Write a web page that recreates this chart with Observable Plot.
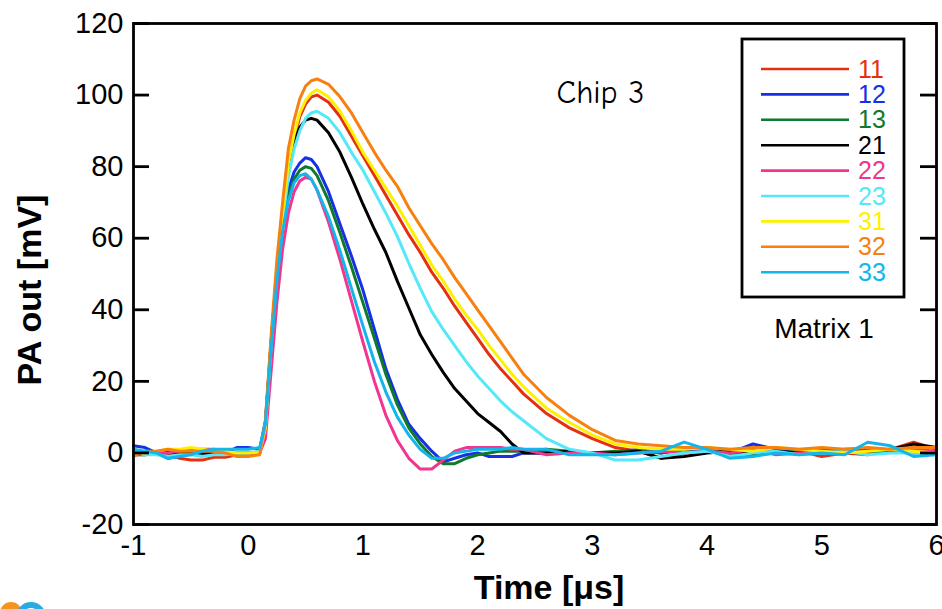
<!DOCTYPE html>
<html><head><meta charset="utf-8">
<script src="https://cdn.jsdelivr.net/npm/d3@7"></script>
<script src="https://cdn.jsdelivr.net/npm/@observablehq/plot@0.6"></script>
<style>
body{margin:0;background:#fff;}
#wrap{position:relative;width:942px;height:609px;overflow:hidden;}
#wrap svg{position:absolute;left:0;top:0;}
</style></head><body><div id="wrap"></div>
<script>
// time axis (µs)
const time = [-1,-0.9,-0.8,-0.7,-0.6,-0.5,-0.4,-0.3,-0.2,-0.1,0,
  0.1,0.15,0.2,0.25,0.3,0.35,0.4,0.45,0.5,0.55,0.6,
  0.7,0.8,0.9,1.0,1.1,1.2,1.3,1.4,1.5,1.6,1.7,1.8,1.9,2.0,2.1,2.2,2.3,2.4,
  2.6,2.8,3.0,3.2,3.4,3.6,3.8,4.0,4.2,4.4,4.6,4.8,5.0,5.2,5.4,5.6,5.8,6.0];

// PA out (mV) per channel
const s11 = [0,0,0,0,-1.5,-2,-2,-1.2,-1.2,-0.5,0,
  0,7,31,51,66,79,88,94,97.5,99.5,100,
  98,94,88.5,83,77.5,72,66.5,61,56,50.5,46,41,36.5,32,27.5,23.5,20,16.5,
  11,7,4,1.5,0.5,-1.5,0,0.5,0,0.5,0,0.5,-1,0,-0.5,1,3,1];
const s12 = [2,1.5,0,-1.5,-1,0,-0.5,0,0,1.5,1.5,
  1,9,31,51,65,73.5,78.5,81,82.5,82,80,
  73,64,55,45.5,34.5,23.5,15,8,4,0.5,-2.5,-1.5,-0.5,0,-1,-1,-1,0,
  0,0.5,0,0,1,0,1,0.5,0,2.5,1,0.5,0,1,1,0.5,0,0.5];
const s13 = [0,0,0,0.5,0.5,0,0,0.5,0.5,0,0,
  0,8,30,49,63,72,76.5,79,80,79.5,77.5,
  70.5,61.5,52,42,32,22,13.5,7,2.5,-1,-3,-3,-1.5,-0.5,0,0.5,0.5,0.5,
  1,0.5,0,0.5,0.5,0,1,1.5,0,-0.5,0,0.5,1,0.5,0,0.5,1.5,-0.5];
const s21 = [-0.5,-0.5,0,0,0,0,0,0,0.5,0,0,
  0,8,31,51,67,79,87,91,93,93.5,93,
  89.5,84,77,69.5,62.5,56,48,40.5,33,27.5,22.5,18,14.5,11,8.5,6,2.5,0,
  0,0.5,0,0,0.5,-1.5,-1,0,0.5,0,0.5,0,0.5,0,0.5,1,2.5,1.5];
const s22 = [0,0,0,0,0.5,1,1,1,0.5,0,0,
  0,4,23,42,57,67,73,76,77,76.5,73.5,
  64.5,54,42.5,31,20,10.5,3.5,-1.5,-4.5,-4.5,-2,0.5,1.5,1.5,1.5,1.5,1,1,
  -0.5,0,0,-0.5,0,0.5,0,0.5,0,1,-0.5,0,0.5,0,0.5,1,1,0.5];
const s23 = [0,-0.5,-0.5,-1,-0.5,-0.5,-1,-0.5,-0.5,0,0,
  0.5,8,30,50,65,77,85,90,93.5,95,95.5,
  93.5,89.5,84,79,73,67,60.5,53,46,39.5,34.5,30,25.5,21.5,18,14.5,11.5,9,
  4,1,0,-2,-2,-1,0,0.5,-1,0,0.5,-0.5,0,0.5,-0.5,0,0,-0.5];
const s31 = [0,0,0.5,1,1,1.5,1,0.5,0.5,0,0,
  0,7,31,52,67,81,89,95,98.5,100.5,101.5,
  99.5,95.5,90,84,79,74,69,63.5,58,52.5,48,43,38.5,34.5,30,26,22,18.5,
  12.5,8.5,5,2.5,1.5,1,1,1.5,1,0.5,1.5,1,0.5,0,0.5,1,0.5,0];
const s32 = [-1,0.5,0.5,1,0.5,0.5,0.5,0.5,0,-1,-1,
  -0.5,9,33,54,70,85,93,99,102.5,104,104.5,
  103,99.5,95,89.5,84,79,74.5,68.5,63.5,58.5,54,49,44.5,40,35.5,31,26.5,22,
  15.5,10.5,6.5,3.5,2.5,2,1.5,1.5,1,1.5,1.5,1,1.5,1,1.5,1,1.5,1.5];
const s33 = [1,0.5,0,-1.5,-1,-0.5,0.5,1,1,1,1,
  1.5,8,29,48,62,70.5,75.5,77.5,78,76.5,73.5,
  66,56.5,46,35.5,25.5,17,10,5,1,-1.5,-1.5,0,0.5,1,1,1,1.5,1,
  1,-0.5,-0.5,-0.5,0,0.5,3,1,-1.5,-1,0,-0.5,0,-0.5,3,2,-1,-0.5];

const seriesNames = ["11","12","13","21","22","23","31","32","33"];
const seriesValues = [s11,s12,s13,s21,s22,s23,s31,s32,s33];
const seriesColors = ["#e5300f","#1630e6","#0e7a2c","#000000","#f2358e","#55e8f8","#fff000","#f7800f","#12b6ea"];

const xTicks = [-1,0,1,2,3,4,5,6];
const yTicks = [-20,0,20,40,60,80,100,120];

const W = 942, H = 609, mL = 133, mR = 6, mT = 23, mB = 85;
const plotW = W - mL - mR;
const FONT = "'Liberation Sans', Arial, Helvetica, sans-serif";
const fmt = d => String(d);

const data = seriesNames.flatMap((name, i) =>
  time.map((t, j) => ({t, v: seriesValues[i][j], name})));

const chart = Plot.plot({
  width: W, height: H,
  marginLeft: mL, marginRight: mR, marginTop: mT, marginBottom: mB,
  x: {domain: [-1, 6]},
  y: {domain: [-20, 120]},
  color: {domain: seriesNames, range: seriesColors},
  style: {fontFamily: FONT, background: "white", color: "black"},
  marks: [
    Plot.lineY(data, {x: "t", y: "v", z: "name", stroke: "name", strokeWidth: 3}),
    Plot.frame({stroke: "black", strokeWidth: 2.8}),
    Plot.tickY(yTicks, {y: d => d, insetRight: plotW - 16, stroke: "black", strokeWidth: 2.8}),
    Plot.tickY(yTicks, {y: d => d, insetLeft: plotW - 16, stroke: "black", strokeWidth: 2.8}),
    Plot.axisY({ticks: yTicks, tickSize: 0, tickPadding: 10, fontSize: 29, label: null, tickFormat: fmt}),
    Plot.axisX({ticks: xTicks, tickSize: 0, tickPadding: 10, fontSize: 29, label: null, tickFormat: fmt}),
    Plot.text(["PA out [mV]"], {frameAnchor: "left", textAnchor: "middle", lineAnchor: "middle",
      rotate: -90, dx: -103, dy: 16, fontSize: 34, fontWeight: "bold"}),
    Plot.text(["Time [μs]"], {frameAnchor: "bottom", textAnchor: "middle", lineAnchor: "middle",
      dx: 14, dy: 64, fontSize: 34, fontWeight: "bold"}),
    Plot.text(["Chip 3"], {frameAnchor: "top-left", textAnchor: "start", lineAnchor: "middle",
      dx: 423, dy: 69, fontSize: 32, letterSpacing: "2px",
      fontFamily: "'Comic Sans MS', 'Comic Neue', 'DejaVu Sans', sans-serif"})
  ]
});
document.getElementById("wrap").appendChild(chart);

// legend overlay
const svg = d3.select("#wrap").append("svg")
  .attr("width", W).attr("height", H)
  .style("font-family", FONT);
svg.append("rect").attr("x", 742).attr("y", 39).attr("width", 162).attr("height", 258)
  .attr("fill", "white").attr("stroke", "black").attr("stroke-width", 2.8);
seriesNames.forEach((name, i) => {
  const y = 69 + i * 25.4;
  svg.append("line").attr("x1", 761).attr("x2", 849).attr("y1", y).attr("y2", y)
    .attr("stroke", seriesColors[i]).attr("stroke-width", 2.6);
  svg.append("text").attr("x", 858).attr("y", y + 8.5).attr("font-size", 25)
    .attr("fill", seriesColors[i]).text(name);
});
svg.append("text").attr("x", 824).attr("y", 338).attr("text-anchor", "middle")
  .attr("font-size", 28).attr("fill", "black").text("Matrix 1");
// partial logo at bottom-left corner
svg.append("circle").attr("cx", 11).attr("cy", 613).attr("r", 11).attr("fill", "#f7941d");
svg.append("circle").attr("cx", 31).attr("cy", 617).attr("r", 12).attr("fill", "none")
  .attr("stroke", "#29abe2").attr("stroke-width", 6);
</script>
</body></html>
